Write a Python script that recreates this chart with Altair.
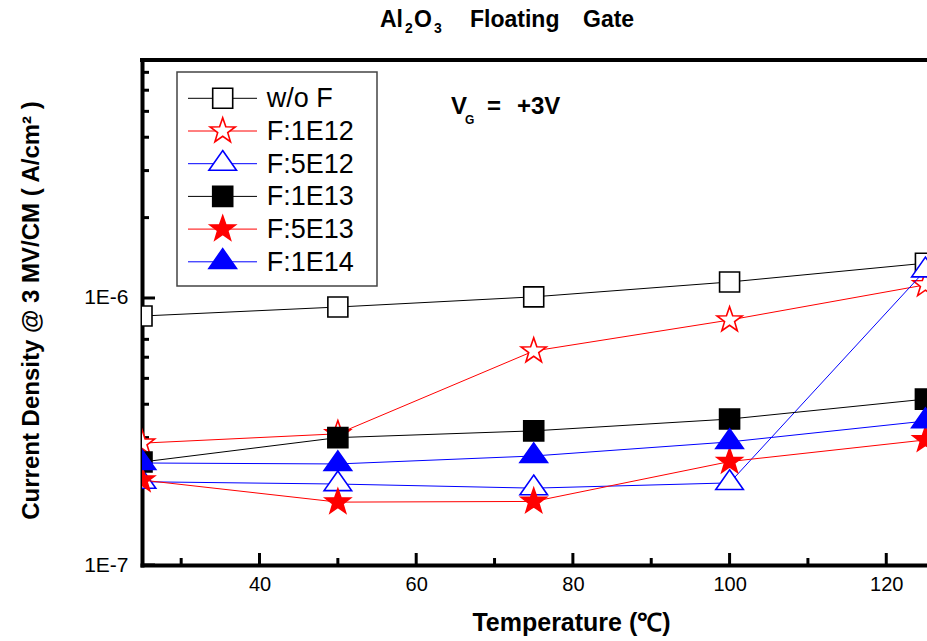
import altair as alt
import pandas as pd

# ---------------- data ----------------
temps = [25, 50, 75, 100, 125]
series_names = ["w/o F", "F:1E12", "F:5E12", "F:1E13", "F:5E13", "F:1E14"]
wo_f   = [8.56e-7, 9.25e-7, 1.01e-6, 1.148e-6, 1.35e-6]
f_1e12 = [2.86e-7, 3.10e-7, 6.33e-7, 8.27e-7, 1.12e-6]
f_5e12 = [2.05e-7, 2.01e-7, 1.94e-7, 2.03e-7, 1.27e-6]
f_1e13 = [2.43e-7, 3.00e-7, 3.18e-7, 3.52e-7, 4.18e-7]
f_5e13 = [2.08e-7, 1.72e-7, 1.73e-7, 2.44e-7, 2.94e-7]
f_1e14 = [2.41e-7, 2.39e-7, 2.56e-7, 2.89e-7, 3.46e-7]
series_values = [wo_f, f_1e12, f_5e12, f_1e13, f_5e13, f_1e14]

x_major_ticks = [40, 60, 80, 100, 120]
x_minor_ticks = [30, 50, 70, 90, 110]
y_label_ticks = [1e-7, 1e-6]
y_minor_ticks = [2e-7, 3e-7, 4e-7, 5e-7, 6e-7, 7e-7, 8e-7, 9e-7,
                 2e-6, 3e-6, 4e-6, 5e-6, 6e-6, 7e-6]

title_parts = ["Al", "2", "O", "3", "Floating", "Gate"]
vg_parts = ["V", "G", "=", "+3V"]
x_title = "Temperature (℃)"
y_title = "Current  Density @ 3 MV/CM ( A/cm² )"

# ---------------- styles ----------------
FONT = "Liberation Sans"
W, H = 785, 505
STAR = ("M0,-1L0.2351,-0.3236L0.9511,-0.309L0.3804,0.1236L0.5878,0.809L0,0.4"
        "L-0.5878,0.809L-0.3804,0.1236L-0.9511,-0.309L-0.2351,-0.3236Z")
TRI = "M0,-0.952L1,0.476L-1,0.476Z"
styles = {
    "w/o F":  dict(color="#000000", shape="square", size=400, open=True),
    "F:1E12": dict(color="#FF0000", shape=STAR, size=700, open=True),
    "F:5E12": dict(color="#0000FF", shape=TRI, size=760, open=True),
    "F:1E13": dict(color="#000000", shape="square", size=400, open=False),
    "F:5E13": dict(color="#FF0000", shape=STAR, size=700, open=False),
    "F:1E14": dict(color="#0000FF", shape=TRI, size=760, open=False),
}

rows = []
for name, vals in zip(series_names, series_values):
    for t, v in zip(temps, vals):
        rows.append({"series": name, "T": t, "J": v})
df = pd.DataFrame(rows)

x_enc = alt.X("T:Q",
              scale=alt.Scale(domain=[25, 125.2], nice=False, zero=False),
              axis=alt.Axis(values=x_major_ticks, ticks=False, tickSize=0, grid=False,
                            domainColor="black", domainWidth=4, domainCap="square",
                            labelFont=FONT, labelFontSize=20, labelColor="black",
                            labelPadding=9, labelFlush=False,
                            title=x_title, titleFont=FONT, titleFontSize=25,
                            titleFontWeight="bold", titleColor="black",
                            titleX=429, titleY=57, titleBaseline="middle",
                            titleAlign="center"))
y_enc = alt.Y("J:Q",
              scale=alt.Scale(type="log", domain=[1e-7, 7.786e-6], nice=False),
              axis=alt.Axis(values=y_label_ticks, ticks=False, tickSize=0, grid=False,
                            domainColor="black", domainWidth=4, domainCap="square",
                            labelFont=FONT, labelFontSize=21, labelColor="black",
                            labelPadding=14, labelFlush=False,
                            labelExpr="datum.value < 5e-7 ? '1E-7' : '1E-6'",
                            title=y_title, titleFont=FONT, titleFontSize=24,
                            titleFontWeight="bold", titleColor="black",
                            titleAngle=270, titleX=-111, titleY=250,
                            titleBaseline="middle", titleAlign="center"))

layers = []

# inward ticks
xt_major = pd.DataFrame({"T": x_major_ticks})
xt_minor = pd.DataFrame({"T": x_minor_ticks})
yt_major = pd.DataFrame({"J": y_label_ticks})
yt_minor = pd.DataFrame({"J": y_minor_ticks})
layers.append(alt.Chart(xt_major).mark_rule(color="black", strokeWidth=3).encode(
    x=x_enc, y=alt.value(H), y2=alt.value(H - 12)))
layers.append(alt.Chart(xt_minor).mark_rule(color="black", strokeWidth=3).encode(
    x=x_enc, y=alt.value(H), y2=alt.value(H - 7)))
layers.append(alt.Chart(yt_major).mark_rule(color="black", strokeWidth=3).encode(
    y=y_enc, x=alt.value(0), x2=alt.value(13)))
layers.append(alt.Chart(yt_minor).mark_rule(color="black", strokeWidth=3).encode(
    y=y_enc, x=alt.value(0), x2=alt.value(7)))

# series
for name in series_names:
    st = styles[name]
    base = alt.Chart(df).transform_filter(alt.datum.series == name)
    layers.append(base.mark_line(color=st["color"], strokeWidth=1, clip=True).encode(
        x=x_enc, y=y_enc))
    fill = "white" if st["open"] else st["color"]
    layers.append(base.mark_point(shape=st["shape"], size=st["size"], filled=True,
                                  fill=fill, fillOpacity=1, stroke=st["color"],
                                  strokeWidth=1.6, opacity=1, clip=True).encode(
        x=x_enc, y=y_enc))

one = pd.DataFrame({"t": [""]})
# top frame
layers.append(alt.Chart(one).mark_rule(color="black", strokeWidth=4).encode(
    x=alt.value(-2), x2=alt.value(W + 2), y=alt.value(0)))

# legend
layers.append(alt.Chart(one).mark_rect(fill="white", stroke="#444444", strokeWidth=1.5).encode(
    x=alt.value(35), x2=alt.value(235), y=alt.value(12), y2=alt.value(226)))
for i, name in enumerate(series_names):
    st = styles[name]
    yy = 38.3 + 32.7 * i
    ld = pd.DataFrame({"t": [name]})
    layers.append(alt.Chart(ld).mark_rule(color=st["color"], strokeWidth=1).encode(
        x=alt.value(46), x2=alt.value(115), y=alt.value(yy)))
    fill = "white" if st["open"] else st["color"]
    layers.append(alt.Chart(ld).mark_point(shape=st["shape"], size=st["size"], filled=True,
                                           fill=fill, fillOpacity=1, stroke=st["color"],
                                           strokeWidth=1.6, opacity=1).encode(
        x=alt.value(80.7), y=alt.value(yy)))
    layers.append(alt.Chart(ld).mark_text(align="left", baseline="middle", font=FONT,
                                          fontSize=27, color="black").encode(
        x=alt.value(124.7), y=alt.value(yy + 1), text="t:N"))

# V_G annotation
vg_specs = [(vg_parts[0], 309, 46.5, 24), (vg_parts[1], 323, 60, 12),
            (vg_parts[2], 345, 46.5, 24), (vg_parts[3], 375, 46.5, 24)]
for txt, xx, yy, fs in vg_specs:
    layers.append(alt.Chart(pd.DataFrame({"t": [txt]})).mark_text(
        align="left", baseline="middle", font=FONT, fontSize=fs, fontWeight="bold",
        color="black").encode(x=alt.value(xx), y=alt.value(yy), text="t:N"))

# chart title with subscripts
t_specs = [(title_parts[0], 238, -40, 23), (title_parts[1], 263, -31, 14),
           (title_parts[2], 272, -40, 23), (title_parts[3], 292, -31, 14),
           (title_parts[4], 328, -40, 23), (title_parts[5], 441, -40, 23)]
for txt, xx, yy, fs in t_specs:
    layers.append(alt.Chart(pd.DataFrame({"t": [txt]})).mark_text(
        align="left", baseline="middle", font=FONT, fontSize=fs, fontWeight="bold",
        color="black").encode(x=alt.value(xx), y=alt.value(yy), text="t:N"))

chart = alt.layer(*layers).properties(
    width=W, height=H,
    autosize=alt.AutoSizeParams(type="none"),
    padding={"left": 142, "top": 60, "right": 0, "bottom": 76},
).configure_view(stroke=None).configure(background="white")

chart.save("out.html", embed_options={"renderer": "svg", "actions": False})
